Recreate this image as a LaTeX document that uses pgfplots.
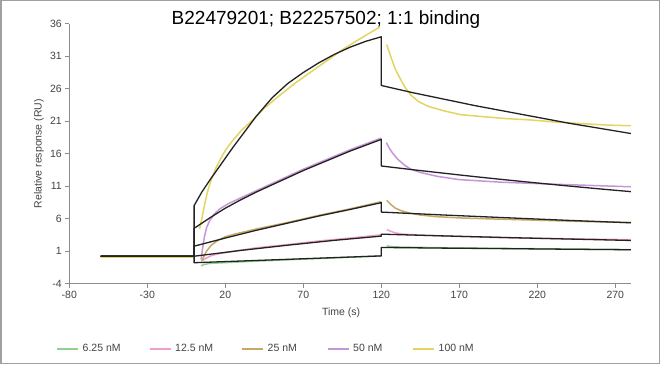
\documentclass[border=0pt]{standalone}
\usepackage{fontspec}
\setmainfont{Liberation Sans}
\usepackage{pgfplots}
\pgfplotsset{compat=1.18}
\definecolor{cgreen}{RGB}{144,208,144}
\definecolor{cpink}{RGB}{240,160,200}
\definecolor{ctan}{RGB}{196,168,100}
\definecolor{cpurple}{RGB}{198,150,214}
\definecolor{cyellow}{RGB}{228,212,96}
\definecolor{cfit}{RGB}{34,34,34}
\definecolor{ctext}{RGB}{68,68,68}
\definecolor{caxis}{RGB}{140,140,140}
\definecolor{cframe}{RGB}{160,160,160}
\begin{document}
\begin{tikzpicture}
\useasboundingbox (0pt,0pt) rectangle (661pt,365pt);
\fill[white] (0pt,0pt) rectangle (661pt,365pt);
\draw[cframe, line width=1.5pt] (0.75pt,1.5pt) rectangle (659.5pt,364.25pt);
\begin{axis}[
  at={(69.3pt,81.5pt)}, anchor=south west,
  scale only axis, width=561.6pt, height=259.7pt,
  xmin=-80, xmax=280, ymin=-4, ymax=36,
  xtick={-80,-30,20,70,120,170,220,270},
  ytick={-4,1,6,11,16,21,26,31,36},
  axis x line*=bottom, axis y line*=left,
  axis line style={caxis, line width=0.8pt},
  tick style={caxis, line width=0.8pt},
  tick align=outside, major tick length=4pt,
  tick label style={ctext, font=\fontsize{10.5}{12}\selectfont},
  /pgf/number format/assume math mode=true,
  every axis y label/.style={at={(axis description cs:-0.054,0.5)}, anchor=center, rotate=90, ctext, font=\fontsize{10.5}{12}\selectfont},
  ylabel={Relative response (RU)},
  every axis x label/.style={at={(axis description cs:0.484,-0.1136)}, anchor=center, ctext, font=\fontsize{10.5}{12}\selectfont},
  xlabel={Time (s)},
  every axis title/.style={at={(axis description cs:0.457,1.0146)}, anchor=center, font=\fontsize{19}{22}\selectfont},
  title={B22479201; B22257502; 1:1 binding},
  clip=false,
  legend columns=5,
  legend style={draw=none, fill=none, inner sep=0pt, at={(axis description cs:-0.0237,-0.252)}, anchor=west,
    font=\fontsize{10.5}{12}\selectfont\color{ctext},
    nodes={inner xsep=0pt},
    /tikz/every odd column/.append style={column sep=3.5pt},
    /tikz/every even column/.append style={column sep=0pt}},
  legend image code/.code={\draw[#1, line width=2pt] (0pt,0pt) -- (21pt,0pt);},
  every axis plot/.append style={line width=1.5pt, line join=round},
]
% raw baselines
\addplot[cyellow, forget plot] coordinates {(-60,0.1)(0,0.1)};
\addplot[cpink, forget plot] coordinates {(-60,0.25)(0,0.25)};
% raw data, association
\addplot[cgreen] coordinates {(4.5,-1.3)(6,-1.1)(10,-0.9)(40,-0.55)(80,-0.15)(120,0.25)};
\addlegendentry{\makebox[66pt][l]{6.25 nM}}
\addplot[cpink] coordinates {(4.5,-0.6)(7,-0.2)(11,0.3)(16,0.6)(25,0.95)(40,1.5)(60,2.0)(80,2.55)(100,3.0)(120,3.5)};
\addlegendentry{\makebox[66pt][l]{12.5 nM}}
\addplot[ctan] coordinates {(5,-0.5)(6.5,0.3)(8,1.0)(11,1.9)(15,2.6)(20,3.2)(26,3.6)(40,4.4)(60,5.4)(80,6.5)(100,7.5)(120,8.6)};
\addlegendentry{\makebox[59pt][l]{25 nM}}
\addplot[cpurple] coordinates {(4.5,-0.3)(5.5,1.5)(6.7,3.3)(8,4.6)(10,5.7)(13,6.7)(16.5,7.5)(22,8.3)(30,9.2)(40,10.3)(50,11.4)(60,12.5)(70,13.6)(80,14.6)(90,15.6)(100,16.6)(110,17.5)(120,18.4)};
\addlegendentry{\makebox[59pt][l]{50 nM}}
\addplot[cyellow] coordinates {(3.5,4.4)(5,6.0)(7,8.5)(9,10.5)(11,12.0)(14,13.8)(17,15.2)(20,16.5)(25,18.1)(30,19.5)(38,21.3)(45,23.0)(55,25.0)(65,26.9)(75,28.6)(85,30.3)(95,32.0)(105,33.5)(112,34.5)(119,35.5)};
\addlegendentry{100 nM}
% raw data, dissociation
\addplot[cgreen, forget plot] coordinates {(123.5,1.8)(127,1.65)(135,1.6)(160,1.5)(200,1.4)(240,1.3)(280,1.22)};
\addplot[cpink, forget plot] coordinates {(123.5,4.3)(126,4.05)(129,3.8)(134,3.6)(145,3.45)(170,3.25)(200,3.05)(240,2.88)(280,2.75)};
\addplot[ctan, forget plot] coordinates {(123.5,8.8)(126,8.2)(129,7.6)(133,7.2)(138,6.85)(145,6.55)(155,6.3)(170,6.1)(190,5.95)(220,5.75)(250,5.55)(280,5.4)};
\addplot[cpurple, forget plot] coordinates {(123.2,17.7)(125,16.9)(127.5,16.0)(130.7,15.1)(135,14.2)(139,13.6)(145,13.1)(156,12.5)(170,12.0)(197,11.6)(230,11.3)(255,11.1)(280,10.9)};
\addplot[cyellow, forget plot] coordinates {(123.5,32.8)(126,31.0)(129,29.0)(132,27.6)(135,26.3)(139,25.0)(144,24.0)(150,23.3)(160,22.6)(171,22.0)(185,21.7)(200,21.4)(215,21.2)(230,20.9)(250,20.6)(265,20.4)(280,20.3)};
% fits
\addplot[cfit, line width=1.3pt, forget plot] coordinates {(-60,0.2)(0,0.2)(0,-0.8)(40,-0.45)(80,-0.1)(120,0.25)(120,1.55)(160,1.45)(200,1.37)(240,1.28)(280,1.2)};
\addplot[cfit, line width=1.3pt, forget plot] coordinates {(-60,0.2)(0,0.2)(30,1.1)(60,1.9)(90,2.65)(120,3.3)(120,3.6)(160,3.33)(200,3.08)(240,2.85)(280,2.63)};
\addplot[cfit, line width=1.3pt, forget plot] coordinates {(-60,0.2)(0,0.2)(0,1.75)(20,3.0)(40,4.2)(60,5.3)(80,6.4)(100,7.4)(120,8.45)(120,7.0)(160,6.55)(200,6.13)(240,5.72)(280,5.35)};
\addplot[cfit, line width=1.3pt, forget plot] coordinates {(-60,0.2)(0,0.2)(0,4.5)(10,6.1)(20,7.6)(30,8.9)(40,10.1)(50,11.2)(60,12.3)(70,13.4)(80,14.4)(90,15.4)(100,16.4)(110,17.3)(120,18.2)(120,14.1)(140,13.53)(160,12.99)(180,12.46)(200,11.96)(220,11.48)(240,11.02)(260,10.57)(280,10.15)};
\addplot[cfit, line width=1.3pt, forget plot] coordinates {(-60,0.2)(0,0.2)(0,8.0)(5,10.1)(10,11.9)(15,13.6)(20,15.3)(25,17.0)(30,18.6)(40,21.8)(50,24.6)(60,26.8)(70,28.5)(80,30.0)(90,31.3)(100,32.4)(110,33.3)(120,34.0)(120,26.5)(140,25.4)(160,24.4)(180,23.4)(200,22.5)(220,21.6)(240,20.7)(260,19.9)(280,19.1)};
\end{axis}
\end{tikzpicture}
\end{document}
